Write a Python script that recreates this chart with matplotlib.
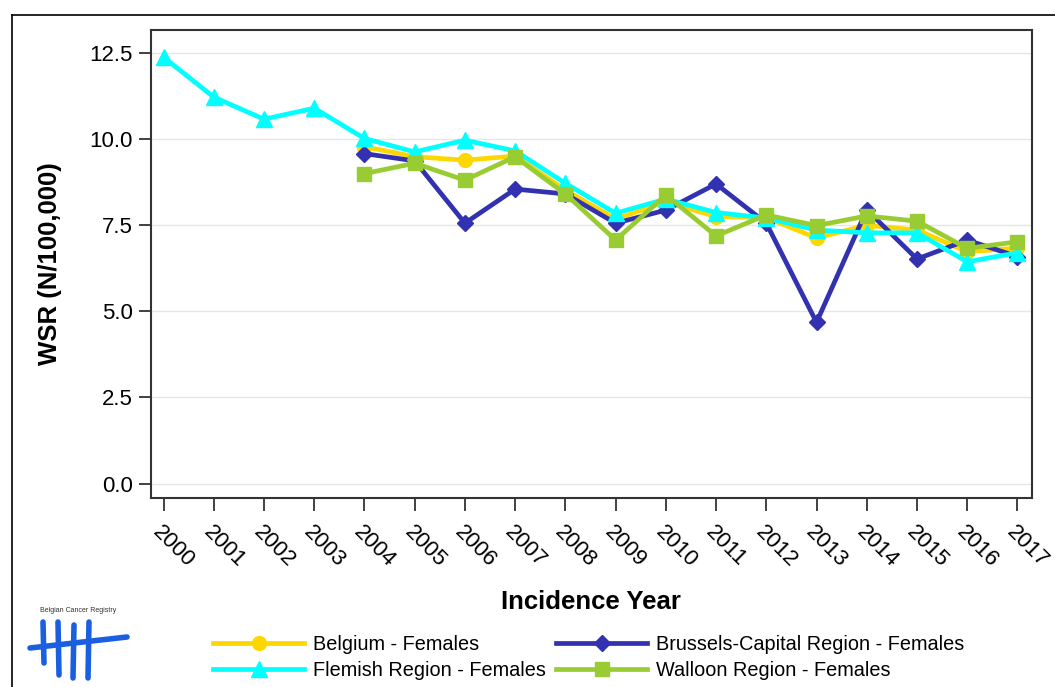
import matplotlib
matplotlib.use("Agg")
import matplotlib.pyplot as plt
from matplotlib.lines import Line2D
from matplotlib.ticker import FormatStrFormatter

plt.rcParams['font.family'] = ['Liberation Sans', 'DejaVu Sans']

years_all = list(range(2000, 2018))
years_reg = list(range(2004, 2018))
xtick_labels = [str(y) for y in years_all]
yticks = [0.0, 2.5, 5.0, 7.5, 10.0, 12.5]

belgium = [9.78, 9.49, 9.39, 9.51, 8.52, 7.68, 8.18, 7.75, 7.72, 7.13, 7.50, 7.36, 6.73, 6.84]
brussels = [9.58, 9.37, 7.56, 8.55, 8.41, 7.56, 7.94, 8.70, 7.56, 4.68, 7.95, 6.52, 7.07, 6.59]
flemish = [12.38, 11.22, 10.58, 10.90, 10.02, 9.63, 9.97, 9.66, 8.72, 7.85, 8.26, 7.87, 7.71,
           7.36, 7.28, 7.28, 6.44, 6.70]
walloon = [9.00, 9.30, 8.81, 9.49, 8.41, 7.07, 8.38, 7.19, 7.80, 7.49, 7.77, 7.62, 6.83, 7.02]

labels = ["Belgium - Females", "Brussels-Capital Region - Females",
          "Flemish Region - Females", "Walloon Region - Females"]
colors = ["#FFD700", "#3232B0", "#00FFFF", "#99CC33"]

W, H = 1055, 687
fig = plt.figure(figsize=(W / 100, H / 100), dpi=100)

def fx(px):
    return px / W

def fy(py):
    return 1 - py / H

ax = fig.add_axes([fx(151), fy(498), fx(1032) - fx(151), fy(30) - fy(498)])

lw = 3.4
l_bel, = ax.plot(years_reg, belgium, color=colors[0], lw=lw, marker='o', ms=10, zorder=3)
l_bru, = ax.plot(years_reg, brussels, color=colors[1], lw=lw, marker='D', ms=8.5, zorder=4)
l_fle, = ax.plot(years_all, flemish, color=colors[2], lw=lw, marker='^', ms=11, zorder=5)
l_wal, = ax.plot(years_reg, walloon, color=colors[3], lw=lw, marker='s', ms=9.5, zorder=6)

ax.set_xlim(1999.75, 2017.29)
ax.set_ylim(-0.42, 13.17)
ax.set_xticks(years_all)
ax.set_xticklabels(xtick_labels, rotation=-45, ha='left', va='top', rotation_mode='anchor')
ax.set_yticks(yticks)
ax.yaxis.set_major_formatter(FormatStrFormatter('%.1f'))
ax.tick_params(axis='both', direction='out', length=9, width=1.3, color='#333333',
               labelsize=16)
ax.tick_params(axis='x', pad=8)
ax.tick_params(axis='y', pad=4)
ax.grid(axis='y', color='#e6e6e6', lw=1.0, zorder=0)
ax.set_axisbelow(True)
for s in ax.spines.values():
    s.set_color('#333333')
    s.set_linewidth(1.5)

ax.set_ylabel("WSR (N/100,000)", fontsize=18.5, fontweight='bold', labelpad=20)
fig.text(fx(591), fy(602), "Incidence Year", fontsize=18.5, fontweight='bold',
         ha='center', va='center')

leg = fig.legend([l_bel, l_fle, l_bru, l_wal],
                 [labels[0], labels[2], labels[1], labels[3]],
                 ncol=2, loc='upper left', bbox_to_anchor=(fx(213), fy(635)),
                 frameon=False, fontsize=14.3, handlelength=4.6, handletextpad=0.45,
                 columnspacing=0.5, labelspacing=0.34, borderpad=0, borderaxespad=0)

# outer frame
fig.add_artist(Line2D([fx(12), fx(12)], [fy(15), 0], color='black', lw=1.2))
fig.add_artist(Line2D([fx(12), 1], [fy(15), fy(15)], color='black', lw=1.2))

# logo
fig.text(fx(78), fy(611), "Belgian Cancer Registry", fontsize=5, ha='center', va='center',
         color='#333333')
logo_c = "#1a5fe0"
for x0, y0, x1, y1 in [(43, 622, 44, 663), (58, 622, 59, 675), (74, 625, 73, 678),
                       (89, 622, 88, 678), (30, 648, 127, 637)]:
    fig.add_artist(Line2D([fx(x0), fx(x1)], [fy(y0), fy(y1)], color=logo_c, lw=4,
                          solid_capstyle='round'))

fig.savefig("out.png", dpi=100)
